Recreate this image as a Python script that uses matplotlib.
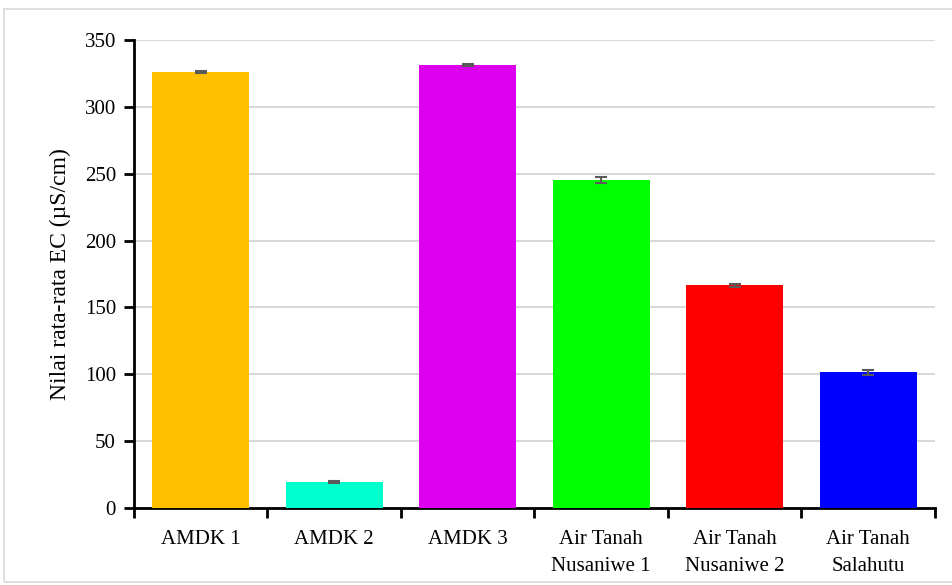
import matplotlib
matplotlib.use("Agg")
import matplotlib.pyplot as plt
from matplotlib.patches import Rectangle

categories = ["AMDK 1", "AMDK 2", "AMDK 3", "Air Tanah\nNusaniwe 1", "Air Tanah\nNusaniwe 2", "Air Tanah\nSalahutu"]
values = [326, 19.5, 331.5, 245, 166.5, 101.5]
errors = [0.6, 0.6, 0.6, 2.2, 1.3, 2.0]
colors = ["#FFC000", "#00FFCC", "#DD00EE", "#00FF00", "#FF0000", "#0000FF"]
yticks = [0, 50, 100, 150, 200, 250, 300, 350]

plt.rcParams['font.family'] = ['Liberation Serif', 'DejaVu Serif']

fig = plt.figure(figsize=(9.53, 5.85), dpi=100)
ax = fig.add_axes([134/953, 1-508/585, (935-134)/953, (508-40)/585])

x = list(range(len(categories)))
ax.bar(x, values, width=0.73, color=colors, zorder=3,
       yerr=errors, error_kw=dict(ecolor="#5a5a5a", elinewidth=1.5, capsize=4, capthick=1.5, zorder=4))

ax.set_xlim(-0.5, len(categories) - 0.5)
ax.set_ylim(0, 350)
ax.set_yticks(yticks)
ax.set_yticklabels([str(t) for t in yticks], fontsize=15)
ax.yaxis.grid(True, color="#d9d9d9", linewidth=1.5, zorder=0)
ax.set_axisbelow(True)

ax.set_xticks([i + 0.5 for i in range(-1, len(categories))], minor=False)
ax.set_xticklabels([])
ax.set_xticks(x, minor=True)
ax.set_xticklabels(categories, minor=True, fontsize=15, linespacing=1.55)
ax.tick_params(axis='x', which='minor', length=0, pad=16)
ax.tick_params(axis='x', which='major', length=7, width=2, direction='out')
ax.tick_params(axis='y', length=7, width=2, direction='out', pad=6)

for s in ['top', 'right']:
    ax.spines[s].set_visible(False)
for s in ['left', 'bottom']:
    ax.spines[s].set_linewidth(2)
    ax.spines[s].set_color('black')

ax.set_ylabel("Nilai rata-rata EC (µS/cm)", fontsize=17, labelpad=10)

fig.patches.append(Rectangle((4/953, 0.005), 1.0, 1-9/585-0.005, transform=fig.transFigure,
                             fill=False, edgecolor="#d9d9d9", linewidth=1.2))

fig.savefig("out.png", dpi=100)
